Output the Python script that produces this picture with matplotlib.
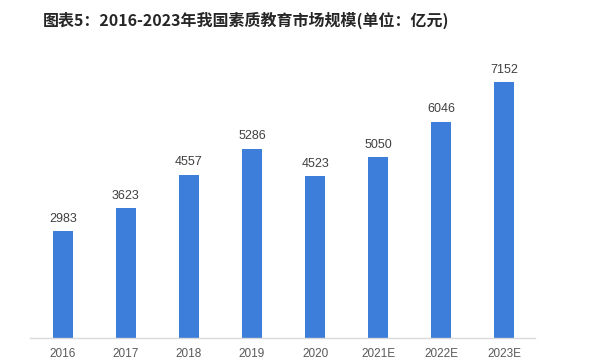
import matplotlib
matplotlib.use("Agg")
import matplotlib.pyplot as plt

plt.rcParams['font.family'] = ['Noto Sans CJK SC', 'DejaVu Sans']

years = ["2016", "2017", "2018", "2019", "2020", "2021E", "2022E", "2023E"]
values = [2983, 3623, 4557, 5286, 4523, 5050, 6046, 7152]

fig = plt.figure(figsize=(6.0, 3.64), dpi=100)
ax = fig.add_axes([0.05, 0.0714, 0.842, 0.767])

x = range(len(years))
ax.bar(x, values, width=0.32, color='#3d7edb', zorder=2)
for xi, v in zip(x, values):
    ax.text(xi, v + 180, f"{v}", ha='center', va='bottom', fontsize=9,
            color='#404040', family=['Liberation Sans', 'DejaVu Sans'])

ax.set_xlim(-0.52, 7.49)
ax.set_ylim(0, 7800)
ax.set_xticks(list(x))
ax.set_xticklabels(years, fontsize=8.5, color='#595959',
                   family=['Liberation Sans', 'DejaVu Sans'])
ax.tick_params(axis='x', length=0, pad=7)
ax.set_yticks([])
for s in ['top', 'right', 'left']:
    ax.spines[s].set_visible(False)
ax.spines['bottom'].set_color('#d9d9d9')
ax.spines['bottom'].set_linewidth(1)

fig.text(0.41, 0.945, "图表5：2016-2023年我国素质教育市场规模(单位：亿元)",
         ha='center', va='center', fontsize=11.5, fontweight='bold', color='#262626')

fig.savefig("out.png", dpi=100, facecolor='white')
